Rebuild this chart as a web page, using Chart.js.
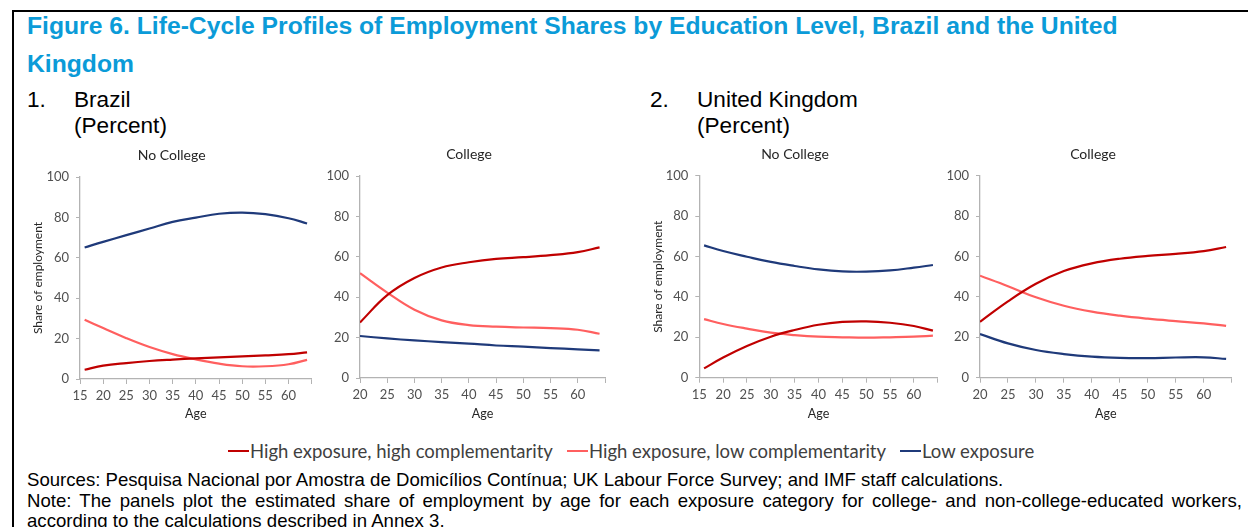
<!DOCTYPE html>
<html>
<head>
<meta charset="utf-8">
<script src="https://cdn.jsdelivr.net/npm/chart.js@4.4.1/dist/chart.umd.min.js"></script>
<style>
  html, body { margin: 0; padding: 0; background: #fff; }
  body { width: 1248px; height: 527px; position: relative; overflow: hidden;
         font-family: "Liberation Sans", Arial, sans-serif; color: #000; }
  #frame { position: absolute; left: 12px; top: 10px; width: 1250px; height: 530px;
           border-left: 2px solid #000; border-top: 2px solid #000; }
  .fig-title { position: absolute; left: 27px; top: 7px; color: #0b9bd8; font-weight: bold;
               font-size: 24.7px; line-height: 38px; white-space: nowrap; }
  .sub { position: absolute; font-size: 22.6px; line-height: 26px; white-space: nowrap; }
  .sub .num { position: absolute; left: 0; }
  .sub .txt { position: absolute; left: 47px; }
  canvas { position: absolute; }
  .leg { position: absolute; top: 441px; height: 20px; display: flex; align-items: center;
         font-family: Lato, "Noto Sans", sans-serif; font-size: 18.5px; color: #404040; white-space: nowrap; }
  .leg .sw { width: 21px; height: 2px; margin-right: 1px; }
  .notes { position: absolute; left: 27px; font-size: 18.6px; line-height: 20px; white-space: nowrap; }
  .justify { text-align: justify; text-align-last: justify; width: 1215px; white-space: normal; }
</style>
</head>
<body>
<div id="frame"></div>
<div class="fig-title">Figure 6. Life-Cycle Profiles of Employment Shares by Education Level, Brazil and the United<br>Kingdom</div>
<div class="sub" style="left:27px;top:87px;"><span class="num">1.</span><span class="txt">Brazil</span></div>
<div class="sub" style="left:27px;top:113px;"><span class="txt">(Percent)</span></div>
<div class="sub" style="left:650px;top:87px;"><span class="num">2.</span><span class="txt">United Kingdom</span></div>
<div class="sub" style="left:650px;top:113px;"><span class="txt">(Percent)</span></div>

<canvas id="brNc" width="310" height="286" style="left:20px;top:140px;"></canvas>
<canvas id="brC" width="310" height="286" style="left:320px;top:140px;"></canvas>
<canvas id="ukNc" width="310" height="286" style="left:640px;top:140px;"></canvas>
<canvas id="ukC" width="310" height="286" style="left:940px;top:140px;"></canvas>

<div id="legend"></div>

<div class="notes" style="top:470px;">Sources: Pesquisa Nacional por Amostra de Domicílios Contínua; UK Labour Force Survey; and IMF staff calculations.</div>
<div class="notes justify" style="top:491px;">Note: The panels plot the estimated share of employment by age for each exposure category for college- and non-college-educated workers,</div>
<div class="notes" style="top:511px;">according to the calculations described in Annex 3.</div>

<script>
// ---- Series names and colours ----
const seriesNames = ["High exposure, high complementarity", "High exposure, low complementarity", "Low exposure"];
const seriesColors = ["#c00000", "#ff5f5f", "#1f3a7a"];

// ---- Brazil, no college ----
const brNcAges = [16, 20, 25, 30, 35, 40, 45, 50, 55, 60, 64];
const brNcHighHigh = [4.6, 6.6, 7.9, 8.9, 9.6, 10.2, 10.7, 11.2, 11.7, 12.3, 13.2];
const brNcHighLow = [29.3, 25.2, 20.2, 15.8, 12.3, 9.7, 7.6, 6.3, 6.3, 7.3, 9.5];
const brNcLow = [65.1, 67.9, 71.2, 74.5, 77.8, 79.9, 81.8, 82.4, 81.6, 79.6, 77.0];

// ---- Brazil, college ----
const brCAges = [20, 25, 30, 35, 40, 45, 50, 55, 60, 64];
const brCHighHigh = [27.5, 41.0, 49.5, 54.7, 57.3, 59.0, 59.8, 60.8, 62.3, 64.7];
const brCHighLow = [51.9, 42.3, 33.8, 28.5, 26.2, 25.4, 25.0, 24.7, 23.9, 21.9];
const brCLow = [20.8, 19.6, 18.6, 17.8, 17.0, 16.1, 15.5, 14.8, 14.2, 13.7];

// ---- United Kingdom, no college ----
const ukNcAges = [16, 20, 25, 30, 35, 40, 45, 50, 55, 60, 64];
const ukNcHighHigh = [4.6, 10.0, 15.7, 20.3, 23.6, 26.2, 27.6, 27.9, 27.2, 25.6, 23.3];
const ukNcHighLow = [29.0, 26.6, 24.3, 22.3, 21.1, 20.3, 20.0, 19.8, 20.0, 20.3, 20.8];
const ukNcLow = [65.5, 62.7, 59.9, 57.3, 55.3, 53.6, 52.6, 52.5, 53.1, 54.5, 55.8];

// ---- United Kingdom, college ----
const ukCAges = [20, 25, 30, 35, 40, 45, 50, 55, 60, 64];
const ukCHighHigh = [27.7, 37.8, 46.5, 52.8, 56.6, 58.9, 60.3, 61.3, 62.7, 64.7];
const ukCHighLow = [50.5, 45.3, 39.8, 35.6, 32.7, 30.7, 29.2, 28.0, 26.9, 25.7];
const ukCLow = [21.6, 17.0, 13.7, 11.7, 10.4, 9.8, 9.7, 10.0, 10.1, 9.3];

// ---- Axis ticks ----
const yTicks = [0, 20, 40, 60, 80, 100];
const panelTitles = ["No College", "College"];
const xTitle = "Age";
const yTitle = "Share of employment";

const uiFont = "Lato, 'Noto Sans', sans-serif";
const axisGray = "#b3b3b3";
const labelGray = "#505050";
const CANVAS_W = 310, CANVAS_H = 286, CANVAS_TOP = 140;
const MIN_Y_WIDTH = 38;   // room for the "100" tick label

// Build one panel. The plot area is placed by layout padding and fixed axis sizes;
// an empty right-hand axis lets the panel title sit centred over its own span.
function panel(id, ages, hh, hl, lo, title, showYTitle, geo) {
  const canvasLeft = geo.canvasLeft;
  const titleLH = 14 * 1.2;
  let titleLeft = 2 * geo.titleCx - geo.plotRight;
  let spacer = 0;
  if (titleLeft > geo.axisX - MIN_Y_WIDTH) {
    titleLeft = geo.axisX - MIN_Y_WIDTH;
    spacer = (2 * geo.titleCx - titleLeft) - geo.plotRight;
  }
  const padL = titleLeft - canvasLeft;
  const padR = canvasLeft + CANVAS_W - geo.plotRight - spacer;
  const yWidth = geo.axisX - titleLeft;
  const padTop = geo.titleCy - CANVAS_TOP - titleLH / 2;
  const padBottom = geo.plotTop - CANVAS_TOP - padTop - titleLH;
  const xHeight = CANVAS_TOP + CANVAS_H - geo.plotBottom;

  const mk = (vals, i) => ({
    label: seriesNames[i],
    data: ages.map((a, k) => ({ x: a, y: vals[k] })),
    borderColor: seriesColors[i],
    backgroundColor: seriesColors[i],
    borderWidth: 2.2,
    pointRadius: 0,
    tension: 0.4,
    fill: false
  });

  new Chart(document.getElementById(id), {
    type: 'line',
    data: { datasets: [mk(hh, 0), mk(hl, 1), mk(lo, 2)] },
    options: {
      responsive: false,
      animation: false,
      events: [],
      layout: { padding: { left: padL, right: padR, top: 0, bottom: 0 } },
      plugins: {
        legend: { display: false },
        tooltip: { enabled: false },
        title: {
          display: true, text: title, color: "#262626",
          font: { family: uiFont, size: 14, weight: 'normal', lineHeight: 1.2 },
          padding: { top: padTop, bottom: padBottom }
        }
      },
      scales: {
        x: {
          type: 'linear', min: ages[0] <= 16 ? 15 : 20, max: 65,
          afterFit: s => { s.height = xHeight; },
          afterBuildTicks: s => {
            const t = [];
            for (let v = s.min; v <= s.max; v += 5) t.push({ value: v });
            s.ticks = t;
          },
          ticks: {
            color: labelGray, font: { family: uiFont, size: 13 }, padding: 4,
            maxRotation: 0, autoSkip: false,
            callback: v => (v === 65 ? '' : String(v))
          },
          grid: { drawOnChartArea: false, color: axisGray, tickLength: 5, tickColor: axisGray },
          border: { color: axisGray, width: 1.3 },
          title: { display: true, text: xTitle, color: "#262626",
                   font: { family: uiFont, size: 12.5, lineHeight: 1.2 }, padding: { top: 0, bottom: 4.5 } }
        },
        y: {
          min: 0, max: 100,
          afterFit: s => { s.width = yWidth; },
          afterBuildTicks: s => { s.ticks = yTicks.map(v => ({ value: v })); },
          ticks: { color: labelGray, font: { family: uiFont, size: 13 }, padding: 7 },
          grid: { drawOnChartArea: false, color: axisGray, tickLength: 4, tickColor: axisGray },
          border: { color: axisGray, width: 1.3 },
          title: { display: showYTitle, text: yTitle, color: "#262626",
                   font: { family: uiFont, size: 12, lineHeight: 1 }, padding: { top: 0, bottom: 0 } }
        },
        spacer: {
          type: 'linear', position: 'right', display: spacer > 0,
          afterFit: s => { s.width = spacer; },
          ticks: { display: false },
          grid: { display: false, drawTicks: false },
          border: { display: false }
        }
      }
    }
  });
}

panel('brNc', brNcAges, brNcHighHigh, brNcHighLow, brNcLow, panelTitles[0], true,
      { canvasLeft: 20, axisX: 80, plotRight: 311.7, plotTop: 177, plotBottom: 379, titleCx: 171.7, titleCy: 155 });
panel('brC', brCAges, brCHighHigh, brCHighLow, brCLow, panelTitles[1], false,
      { canvasLeft: 320, axisX: 360, plotRight: 605, plotTop: 176, plotBottom: 378, titleCx: 469, titleCy: 154 });
panel('ukNc', ukNcAges, ukNcHighHigh, ukNcHighLow, ukNcLow, panelTitles[0], true,
      { canvasLeft: 640, axisX: 699.3, plotRight: 937.7, plotTop: 175.7, plotBottom: 377.7, titleCx: 795, titleCy: 154 });
panel('ukC', ukCAges, ukCHighHigh, ukCHighLow, ukCLow, panelTitles[1], false,
      { canvasLeft: 940, axisX: 980, plotRight: 1231.7, plotTop: 175.7, plotBottom: 377.7, titleCx: 1093, titleCy: 154 });

// Shared legend for all four panels
const legendX = [228, 567, 900];
const legendEl = document.getElementById('legend');
seriesNames.forEach((name, i) => {
  const item = document.createElement('div');
  item.className = 'leg';
  item.style.left = legendX[i] + 'px';
  const sw = document.createElement('span');
  sw.className = 'sw';
  sw.style.background = seriesColors[i];
  const tx = document.createElement('span');
  tx.textContent = name;
  item.appendChild(sw);
  item.appendChild(tx);
  legendEl.appendChild(item);
});
</script>
</body>
</html>
